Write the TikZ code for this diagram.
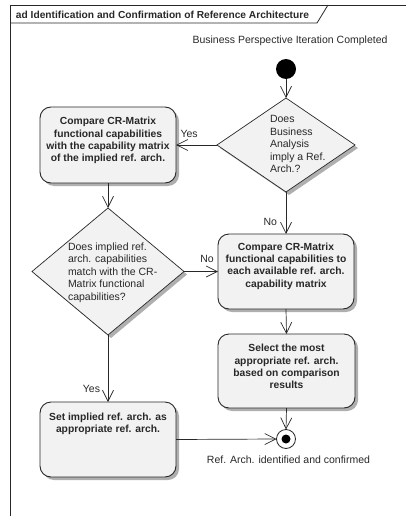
\documentclass[tikz,border=0pt]{standalone}
\usepackage{fontspec}
\setmainfont{Liberation Sans}
\usetikzlibrary{shapes.geometric,arrows.meta,shadows}
\definecolor{boxfill}{RGB}{242,242,242}
\definecolor{ink}{RGB}{40,40,40}
\definecolor{shade}{RGB}{175,175,175}

\begin{document}
\begin{tikzpicture}[x=1pt,y=-1pt,
  every node/.style={font=\fontsize{10.5}{12.5}\selectfont, text=ink, inner sep=0pt, outer sep=0pt},
  boxshadow/.style={drop shadow={shadow xshift=3pt, shadow yshift=-3pt, fill=shade, opacity=1}},
  actionbox/.style={draw=ink, line width=0.9pt, fill=boxfill, rounded corners=11pt, boxshadow},
  choice/.style={diamond, draw=ink, line width=0.7pt, fill=boxfill, boxshadow},
  boldtext/.style={font=\fontsize{10.3}{12.3}\selectfont\bfseries, align=center},
  plaintext/.style={align=left},
  flow/.style={draw=ink, line width=0.7pt, -{Straight Barb[length=11pt,width=11pt,line width=0.7pt]}},
  guard/.style={font=\fontsize{10.5}{12.5}\selectfont},
]
\useasboundingbox (0,0) rectangle (406,516);

% diagram frame and its name tab
\draw[ink, line width=0.8pt] (406,5) -- (10,5) -- (10,516);
\draw[ink, line width=0.8pt] (10,23) -- (317,23) -- (328,5);
\node[anchor=west, font=\fontsize{10.2}{12.5}\selectfont\bfseries] (title) at (16,14.5)
  {ad Identification and Confirmation of Reference Architecture};

% start
\node (startlbl) at (290,41) {Business Perspective Iteration Completed};
\node[circle, fill=black, minimum size=20pt] (start) at (286,69) {};

% first decision
\node[choice, minimum width=138pt, minimum height=94pt] (d1) at (286,145) {};
\node[plaintext, anchor=west] (d1txt) at (270,144)
  {Does\\Business\\Analysis\\imply a Ref.\\Arch.?};

% actions
\node[actionbox, minimum width=136pt, minimum height=76pt] (a1) at (108,145) {};
\node[boldtext] (a1txt) at (108,140.5)
  {Compare CR-Matrix\\functional capabilities\\with the capability matrix\\of the implied ref. arch.};

\node[choice, minimum width=152pt, minimum height=127pt] (d2) at (108,271.5) {};
\node[plaintext, anchor=west] (d2txt) at (68,272.5)
  {Does implied ref.\\arch. capabilities\\match with the CR-\\Matrix functional\\capabilities?};

\node[actionbox, minimum width=136pt, minimum height=75pt] (a2) at (286,271.5) {};
\node[boldtext] (a2txt) at (286,266)
  {Compare CR-Matrix\\functional capabilities to\\each available ref. arch.\\capability matrix};

\node[actionbox, minimum width=137pt, minimum height=74pt] (a3) at (286.5,371) {};
\node[boldtext] (a3txt) at (286.5,366.5)
  {Select the most\\appropriate ref. arch.\\based on comparison\\results};

\node[actionbox, minimum width=136pt, minimum height=75pt] (a4) at (108,439.5) {};
\node[boldtext] (a4txt) at (108,423.5)
  {Set implied ref. arch. as\\appropriate ref. arch.};

% final
\node[circle, draw=ink, line width=0.8pt, fill=white, minimum size=19pt] (final) at (286,439) {};
\node[circle, fill=black, minimum size=9pt] (finaldot) at (final.center) {};
\node (finallbl) at (288.5,460) {Ref. Arch. identified and confirmed};

% control flows
\draw[flow] (start) -- (d1.north);
\draw[flow] (d1.west) -- node[guard, pos=0.68, above=7.5pt] (yes1) {Yes} (a1.east);
\draw[flow] (d1.south) -- node[guard, pos=0.71, left=9pt] (no1) {No} (a2.north);
\draw[flow] (a1.south) -- (d2.north);
\draw[flow] (d2.east) -- node[guard, pos=0.68, above=9pt] (no2) {No} (a2.west);
\draw[flow] (d2.south) -- node[guard, pos=0.8, left=8pt] (yes2) {Yes} (a4.north);
\draw[flow] (a2.south) -- (a3.north);
\draw[flow] (a3.south) -- (final.north);
\draw[flow] (a4.east) -- (final.west);
\end{tikzpicture}
\end{document}
